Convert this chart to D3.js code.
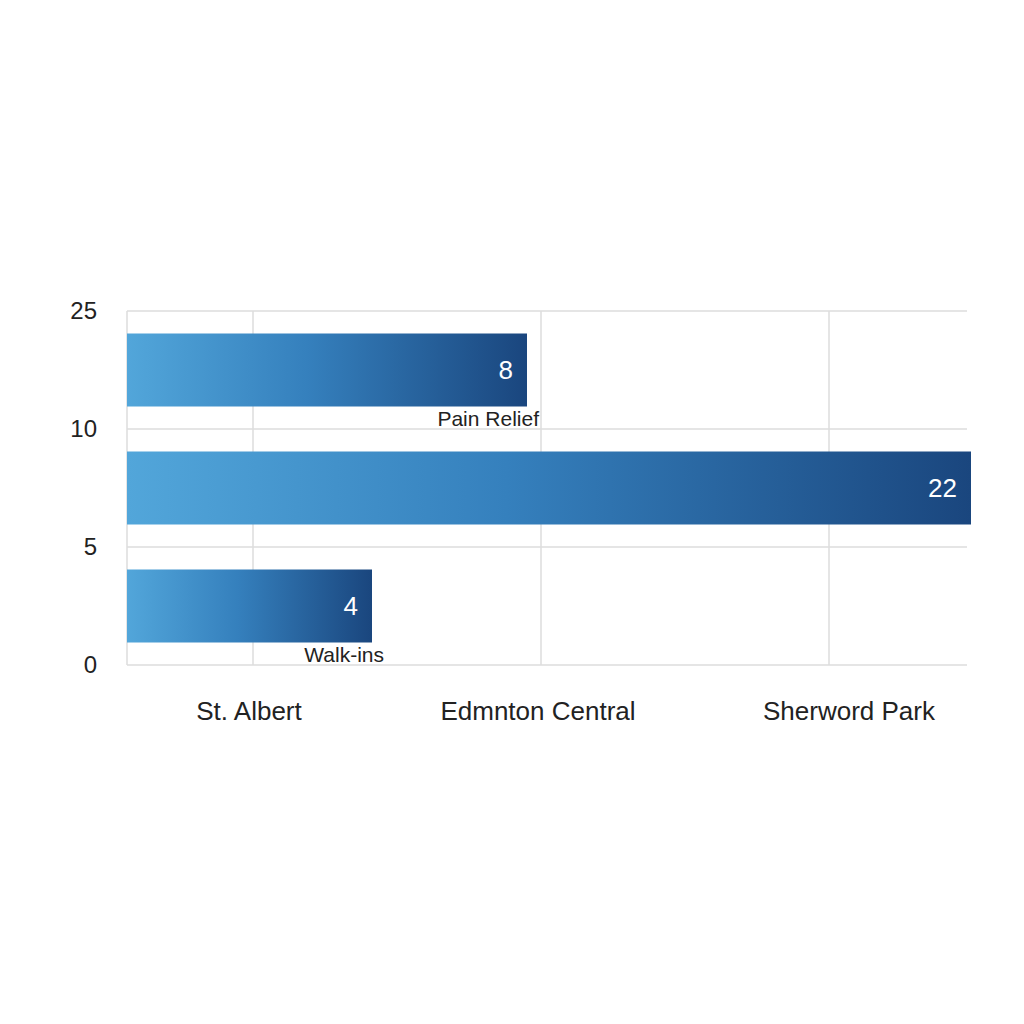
<!DOCTYPE html>
<html>
<head>
<meta charset="utf-8">
<script src="https://cdn.jsdelivr.net/npm/d3@7"></script>
<style>
  body { margin: 0; background: #fff; }
  text { font-family: "Liberation Sans", Arial, sans-serif; }
</style>
</head>
<body>
<svg id="chart" width="1024" height="1024"></svg>
<script>
const categories = ["St. Albert", "Edmnton Central", "Sherword Park"];
const yTicks = ["0", "5", "10", "25"];
const barValues = [8, 22, 4];
const barRows = ["25", "10", "5"]; // row under each tick label
const barNames = ["Pain Relief", "", "Walk-ins"];

const LEFT = 127, RIGHT = 967, TOP = 311, BOTTOM = 665;
const svg = d3.select("#chart");

const grad = svg.append("defs").append("linearGradient")
  .attr("id", "barGrad").attr("x1", "0%").attr("x2", "100%");
grad.append("stop").attr("offset", "0%").attr("stop-color", "#52a6da");
grad.append("stop").attr("offset", "45%").attr("stop-color", "#3580bd");
grad.append("stop").attr("offset", "100%").attr("stop-color", "#1a467e");

const yScale = d3.scalePoint().domain(yTicks).range([BOTTOM, TOP]);
const xCat = d3.scalePoint().domain(categories).range([253, 829]);
// bar length scale as drawn (uneven in the original)
const xVal = d3.scaleLinear().domain([0, 4, 8, 22]).range([LEFT, 372, 527, 971]);

// grid
svg.append("g").selectAll("line").data(yTicks).join("line")
  .attr("x1", LEFT).attr("x2", RIGHT)
  .attr("y1", d => yScale(d)).attr("y2", d => yScale(d))
  .attr("stroke", "#dddddd").attr("stroke-width", 1.5);
svg.append("g").selectAll("line").data(categories).join("line")
  .attr("x1", d => xCat(d)).attr("x2", d => xCat(d))
  .attr("y1", TOP).attr("y2", BOTTOM)
  .attr("stroke", "#dddddd").attr("stroke-width", 1.5);
svg.append("line").attr("x1", LEFT).attr("x2", LEFT).attr("y1", TOP).attr("y2", BOTTOM)
  .attr("stroke", "#dddddd").attr("stroke-width", 1.5);

// y labels
svg.append("g").selectAll("text").data(yTicks).join("text")
  .attr("x", 97).attr("y", d => yScale(d)).attr("dy", "0.35em")
  .attr("text-anchor", "end").attr("font-size", 24).attr("fill", "#222")
  .text(d => d);

// x labels
const xLabelX = [249, 538, 849];
svg.append("g").selectAll("text").data(categories).join("text")
  .attr("x", (d, i) => xLabelX[i]).attr("y", 711).attr("dy", "0.35em")
  .attr("text-anchor", "middle").attr("font-size", 26).attr("fill", "#222")
  .text(d => d);

// bars
const step = yScale.step();
const barH = 73;
const bars = svg.append("g").selectAll("g").data(barValues).join("g");
bars.append("rect")
  .attr("x", LEFT)
  .attr("y", (d, i) => yScale(barRows[i]) + step / 2 - barH / 2 + 22 - 59 + 37)
  .attr("width", d => xVal(d) - LEFT)
  .attr("height", barH)
  .attr("fill", "url(#barGrad)");
bars.append("text")
  .attr("x", d => xVal(d) - 14)
  .attr("y", (d, i) => yScale(barRows[i]) + step / 2 + 22 - 59 + 37)
  .attr("dy", "0.35em").attr("text-anchor", "end")
  .attr("font-size", 26).attr("fill", "#fff")
  .text(d => d);
bars.append("text")
  .attr("x", d => xVal(d) + 12)
  .attr("y", (d, i) => yScale(barRows[i]) + step / 2 + 22 - 59 + 37 + 49)
  .attr("dy", "0.35em").attr("text-anchor", "end")
  .attr("font-size", 21).attr("fill", "#222")
  .text((d, i) => barNames[i]);
</script>
</body>
</html>
